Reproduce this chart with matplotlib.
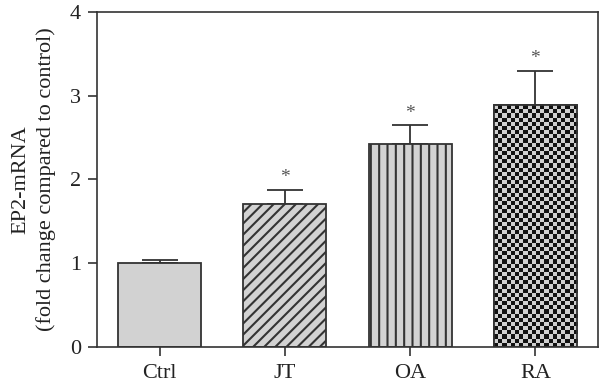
import numpy as np
import matplotlib.pyplot as plt

plt.rcParams['font.family'] = ['Liberation Serif', 'DejaVu Serif']
plt.rcParams['hatch.linewidth'] = 1.5

# data
groups = ['Ctrl', 'JT', 'OA', 'RA']
means = [1.00, 1.71, 2.42, 2.89]
sems = [0.04, 0.17, 0.23, 0.41]
signif = [False, True, True, True]
hatches = ['', '///', '||', None]  # RA gets a checkerboard

gray = '#d2d2d2'
edge = '#333333'

fig = plt.figure(figsize=(6, 3.92), dpi=100)
ax = fig.add_axes([0.1617, 0.1148, 0.835, 0.8546])

x = np.arange(len(groups))
bars = ax.bar(x, means, width=0.664, color=gray, edgecolor=edge, linewidth=1.3, zorder=2)
for b, h in zip(bars, hatches):
    if h:
        b.set_hatch(h)

ax.errorbar(x, means, yerr=[np.zeros(len(sems)), sems], fmt='none', ecolor=edge,
            elinewidth=1.3, capsize=13.3, capthick=1.3, zorder=1)

for xi, m, s, sg in zip(x, means, sems, signif):
    if sg:
        ax.text(xi, m + s + 0.04, '*', ha='center', va='bottom', fontsize=14, color='#555555')

ax.set_xlim(-0.5, 3.5)
ax.set_ylim(0, 4)
ax.set_yticks([0, 1, 2, 3, 4])
ax.set_xticks(x)
ax.set_xticklabels(groups)
ax.tick_params(axis='both', direction='out', length=6.5, width=1.2, colors=edge,
               labelsize=16, labelcolor='#222222')
ax.tick_params(axis='y', pad=5)
ax.tick_params(axis='x', pad=6)
for sp in ax.spines.values():
    sp.set_color(edge)
    sp.set_linewidth(1.2)

ax.set_ylabel('EP2-mRNA\n(fold change compared to control)', fontsize=16, color='#222222',
              labelpad=10, linespacing=1.4)

# checkerboard fill for the RA bar
rb = bars[3]
fig.canvas.draw()
p0 = ax.transData.transform((rb.get_x(), 0))
p1 = ax.transData.transform((rb.get_x() + rb.get_width(), rb.get_height()))
ncol = 20
cell = (p1[0] - p0[0]) / ncol
nrow = int(round((p1[1] - p0[1]) / cell))
board = (np.add.outer(np.arange(nrow), np.arange(ncol)) % 2).astype(float)
img = ax.imshow(board, cmap=plt.matplotlib.colors.ListedColormap(['#111111', '#cfcfcf']),
                extent=(rb.get_x(), rb.get_x() + rb.get_width(), 0, nrow * cell / (p1[1] - p0[1]) * rb.get_height()),
                aspect='auto', interpolation='nearest', zorder=2.5, origin='lower')
img.set_clip_path(rb)
ax.bar(x[3], means[3], width=0.664, color='none', edgecolor=edge, linewidth=1.3, zorder=3)
ax.set_xlim(-0.5, 3.5)
ax.set_ylim(0, 4)

fig.savefig('out.png', dpi=100)
